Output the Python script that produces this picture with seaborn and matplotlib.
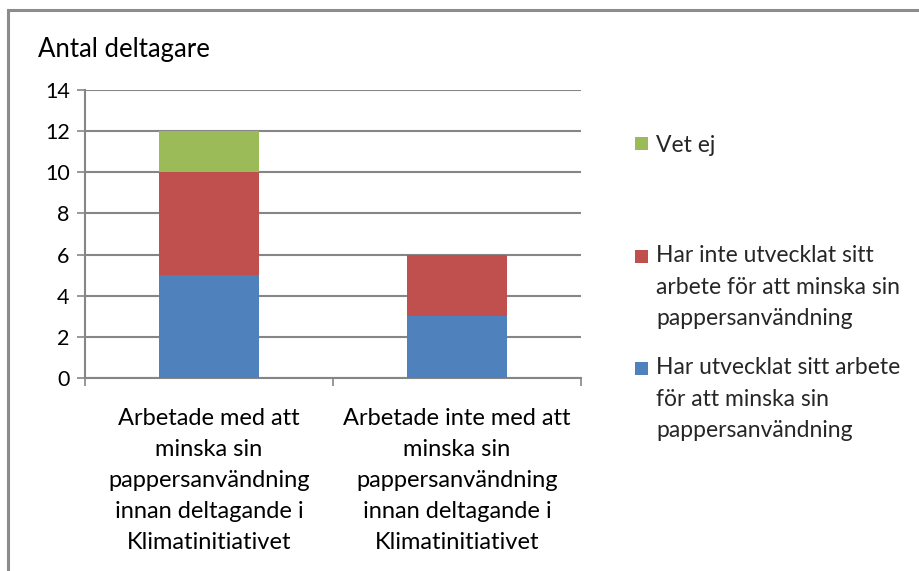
import matplotlib
matplotlib.use("Agg")
import matplotlib.pyplot as plt
from matplotlib.patches import Rectangle, Patch
from matplotlib.legend_handler import HandlerPatch
import seaborn as sns
import pandas as pd
import numpy as np

categories = [
    "Arbetade med att\nminska sin\npappersanvändning\ninnan deltagande i\nKlimatinitiativet",
    "Arbetade inte med att\nminska sin\npappersanvändning\ninnan deltagande i\nKlimatinitiativet",
]
series_names = [
    "Har utvecklat sitt arbete\nför att minska sin\npappersanvändning",
    "Har inte utvecklat sitt\narbete för att minska sin\npappersanvändning",
    "Vet ej",
]
har_utvecklat = [5, 3]
har_inte_utvecklat = [5, 3]
vet_ej = [2, 0]
colors = ["#4F81BD", "#C0504D", "#9BBB59"]
yticks = [0, 2, 4, 6, 8, 10, 12, 14]

sns.set_theme(style="white")
plt.rcParams["font.family"] = ["Lato", "DejaVu Sans"]

W, H = 919, 571
fig = plt.figure(figsize=(W / 100, H / 100), dpi=100)
ax = fig.add_axes([85 / W, (H - 378) / H, 496 / W, 288 / H])

values = [har_utvecklat, har_inte_utvecklat, vet_ej]
cum = np.cumsum(np.array(values), axis=0)
# draw from top layer down so lower layers cover upper ones
for i in [2, 1, 0]:
    df = pd.DataFrame({"cat": categories, "val": cum[i]})
    sns.barplot(data=df, x="cat", y="val", color=colors[i], width=0.4,
                saturation=1, ax=ax, zorder=3, linewidth=0)

ax.set_xlim(-0.5, 1.5)
ax.set_ylim(0, 14)
ax.set_yticks(yticks)
ax.set_yticklabels([str(t) for t in yticks], fontsize=15.5, color="black")
ax.yaxis.grid(True, color="#868686", linewidth=1.5, zorder=0)
ax.set_axisbelow(True)
ax.set_xlabel("")
ax.set_ylabel("")
for s in ["top", "right"]:
    ax.spines[s].set_visible(False)
for s in ["left", "bottom"]:
    ax.spines[s].set_color("#868686")
    ax.spines[s].set_linewidth(1.5)
ax.tick_params(axis="y", length=6, width=1.2, color="#868686", pad=5, left=True)
ax.set_xticks([0, 1])
ax.set_xticklabels(categories, fontsize=17, color="black", linespacing=1.59)
ax.tick_params(axis="x", length=0, pad=21.5)
ax.set_xticks([-0.5, 0.5, 1.5], minor=True)
ax.tick_params(axis="x", which="minor", length=6, width=1.2, color="#868686", bottom=True)

fig.text(38 / W, 1 - 50 / H, "Antal deltagare", fontsize=18.5, color="black",
         ha="left", va="center")


def make_square_handler(n_lines):
    line_pt = 31 * 0.72  # one text line, in points
    size = 9.4

    def patch_func(legend, orig_handle, xdescent, ydescent, width, height, fontsize):
        off = (n_lines - 1) / 2 * line_pt
        return Rectangle((-xdescent + (width - size) / 2,
                          -ydescent + height / 2 - size / 2 + off), size, size)
    return HandlerPatch(patch_func=patch_func)


# legend entries, placed like the original
entries = [(2, 145), (1, 287), (0, 399)]
for idx, yc in entries:
    label = series_names[idx]
    h = Patch(facecolor=colors[idx], edgecolor="none")
    leg = fig.legend(handles=[h], labels=[label],
                     loc="center left", bbox_to_anchor=(630 / W, 1 - yc / H),
                     frameon=False, fontsize=16.5, handletextpad=0.15,
                     handlelength=1.0, borderaxespad=0, borderpad=0,
                     handler_map={h: make_square_handler(label.count("\n") + 1)})
    for t in leg.get_texts():
        t.set_linespacing(1.6)

# outer chart border (top and left visible)
fig.patches.append(Rectangle((8 / W, -0.05), 1.0, 1 - 10 / H + 0.05,
                             transform=fig.transFigure, fill=False,
                             edgecolor="#8c8c8c", linewidth=2.2))

fig.savefig("out.png", dpi=100)
